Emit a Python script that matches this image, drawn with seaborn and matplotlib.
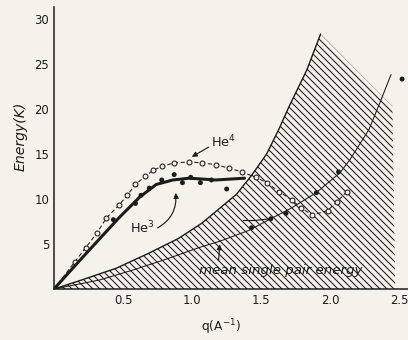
import matplotlib
matplotlib.use("Agg")
import matplotlib.pyplot as plt
import pandas as pd
import seaborn as sns

# He4 excitation spectrum (open circles)
he4_q = [0.15, 0.23, 0.31, 0.38, 0.47, 0.53, 0.59, 0.66, 0.72, 0.78, 0.87, 0.98,
         1.07, 1.17, 1.27, 1.36, 1.46, 1.54, 1.63, 1.72, 1.79, 1.87, 1.98, 2.05, 2.12]
he4_e = [3.0, 4.6, 6.2, 7.9, 9.3, 10.4, 11.6, 12.5, 13.2, 13.6, 14.0, 14.1,
         14.0, 13.8, 13.4, 13.0, 12.4, 11.8, 10.8, 9.9, 9.0, 8.2, 8.7, 9.7, 10.8]

# He3 measured points (filled dots)
he3_q = [0.43, 0.59, 0.63, 0.69, 0.78, 0.87, 0.93, 0.99, 1.06, 1.14, 1.25,
         1.43, 1.57, 1.68, 1.90, 2.06, 2.52]
he3_e = [7.7, 9.5, 10.4, 11.2, 12.1, 12.7, 11.8, 12.4, 11.8, 12.1, 11.1,
         6.8, 7.8, 8.4, 10.7, 13.0, 23.3]

# He3 collective branch (thick line)
he3_line_q = [0.0, 0.2, 0.47, 0.62, 0.74, 0.86, 0.98, 1.17, 1.38]
he3_line_e = [0.0, 3.4, 7.9, 10.2, 11.6, 12.1, 12.3, 12.1, 12.3]

# He3 high-q branch start
he3_tail_q = [1.37, 1.45, 1.57]
he3_tail_e = [7.6, 7.6, 7.8]

# upper edge of the single pair region
band_q = [0.0, 0.2, 0.45, 0.69, 0.9, 1.07, 1.32, 1.43, 1.54, 1.63, 1.70, 1.83, 1.93]
band_e = [0.0, 1.0, 2.3, 4.0, 5.6, 7.3, 10.5, 12.6, 15.0, 17.8, 20.2, 24.3, 28.3]
# right-hand cut of the hatched region
band_end_q = [2.45, 2.47, 0.0]
band_end_e = [20.3, 0.0, 0.0]

# mean single pair energy
mean_q = [0.0, 0.33, 0.57, 0.81, 1.05, 1.2, 1.41, 1.57, 1.72, 1.90, 2.07, 2.14, 2.28, 2.36, 2.44]
mean_e = [0.0, 1.0, 2.1, 3.3, 4.6, 5.3, 6.5, 7.8, 9.0, 10.7, 12.9, 14.3, 17.7, 20.7, 23.8]

x_ticks = [0.5, 1.0, 1.5, 2.0, 2.5]
x_tick_labels = ["0.5", "1.0", "1.5", "2.0", "2.5"]
y_ticks = [5, 10, 15, 20, 25, 30]

DPI = 84
BG = "#f4f2ea"
INK = "#1c1c1c"

sns.set_theme(style="white", rc={"axes.facecolor": BG, "figure.facecolor": BG,
                                 "hatch.linewidth": 0.9, "hatch.color": INK})
plt.rcParams["font.family"] = ["DejaVu Sans"]

fig = plt.figure(figsize=(409 / DPI, 340 / DPI), dpi=DPI)
ax = fig.add_axes([54 / 409, 51 / 340, 355 / 409, 282 / 340])

# hatched single pair region
ax.fill(band_q + band_end_q, band_e + band_end_e, facecolor="none",
        edgecolor=INK, hatch="\\\\\\\\", linewidth=0)
sns.lineplot(x=band_q, y=band_e, sort=False, color=INK, linewidth=1.2, ax=ax)

sns.lineplot(x=mean_q, y=mean_e, sort=False, color=INK, linewidth=0.9, ax=ax)

df4 = pd.DataFrame({"q": [0.0] + he4_q, "E": [0.0] + he4_e})
sns.lineplot(data=df4, x="q", y="E", sort=False, color=INK, linewidth=0.9,
             dashes=False, linestyle=(0, (4, 2.5)), ax=ax)
ax.plot(he4_q, he4_e, linestyle="none", marker="o", markersize=4.2,
        markerfacecolor=BG, markeredgecolor=INK, markeredgewidth=0.9)

sns.lineplot(x=he3_line_q, y=he3_line_e, sort=False, color=INK, linewidth=2.6, ax=ax)
sns.lineplot(x=he3_tail_q, y=he3_tail_e, sort=False, color=INK, linewidth=1.0, ax=ax)
sns.scatterplot(x=he3_q, y=he3_e, color=INK, s=18, edgecolor="none", ax=ax, zorder=5)

arrow = dict(arrowstyle="-|>", color=INK, lw=1.0, mutation_scale=9, shrinkA=0, shrinkB=1)
ax.annotate("He$^4$", xy=(0.99, 14.6), xytext=(1.23, 16.3), fontsize=11,
            ha="center", va="center", color=INK,
            arrowprops=dict(arrow, relpos=(0, 0.3)))
ax.annotate("He$^3$", xy=(0.88, 10.8), xytext=(0.64, 6.8), fontsize=11,
            ha="center", va="center", color=INK,
            arrowprops=dict(arrow, relpos=(1, 0.4), connectionstyle="arc3,rad=0.35"))
ax.annotate("mean single pair energy", xy=(1.2, 5.1), xytext=(1.64, 2.1),
            fontsize=11.5, style="italic", ha="center", va="center", color=INK,
            arrowprops=dict(arrow, relpos=(0.12, 1.0)))

ax.set_xlim(0, 2.57)
ax.set_ylim(0, 31.3)
ax.set_xticks(x_ticks)
ax.set_xticklabels(x_tick_labels)
ax.set_yticks(y_ticks)
ax.tick_params(direction="in", length=7, width=1.0, colors=INK, labelsize=10, pad=4)
sns.despine(ax=ax)
for s in ["left", "bottom"]:
    ax.spines[s].set_color(INK)
    ax.spines[s].set_linewidth(1.3)

ax.set_xlabel("q(A$^{-1}$)", fontsize=10.5, color=INK, va="center")
ax.xaxis.set_label_coords(0.47, -0.135)
ax.set_ylabel("Energy(K)", fontsize=12, style="italic", color=INK)
ax.yaxis.set_label_coords(-0.075, 0.54)

fig.savefig("out.png", dpi=DPI, facecolor=BG)
